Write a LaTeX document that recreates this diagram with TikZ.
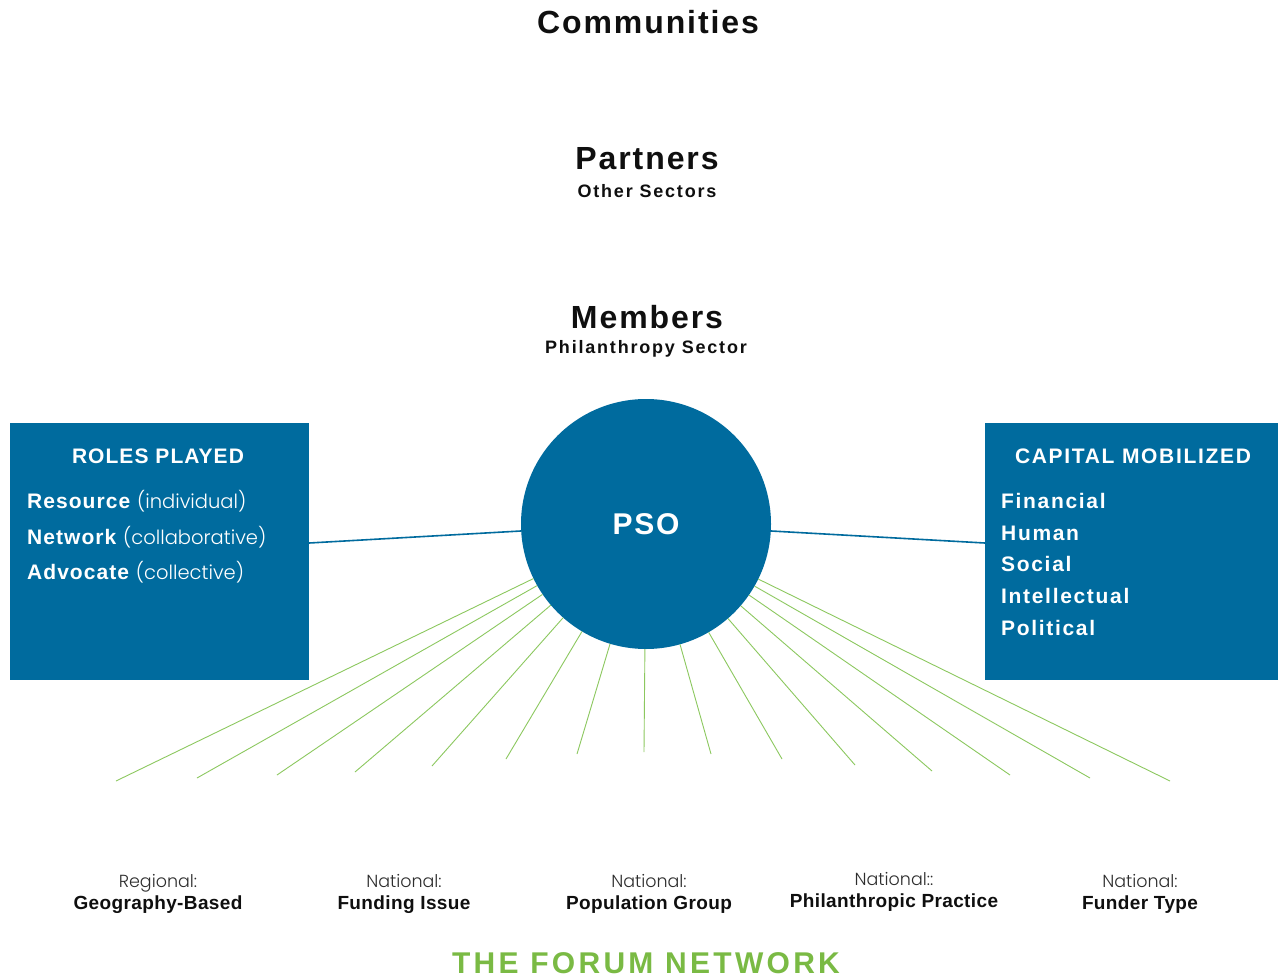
\documentclass[tikz,border=0pt]{standalone}
\usepackage{fontspec}
\setmainfont{Liberation Sans}
\newfontfamily\headfont{Liberation Sans}[LetterSpace=6]
\newfontfamily\subfont{Liberation Sans}[LetterSpace=10]
\newfontfamily\itemfont{Liberation Sans}[LetterSpace=5]
\newfontfamily\capfont{Liberation Sans}[LetterSpace=8]
\newfontfamily\kindfont{Liberation Sans}[LetterSpace=2]
\newfontfamily\brandfont{Liberation Sans}[LetterSpace=11]
\IfFontExistsTF{Poppins Light}{\newfontfamily\lightfont{Poppins Light}}{\newfontfamily\lightfont{Poppins}}
\definecolor{psoblue}{RGB}{0,107,158}
\definecolor{raygreen}{RGB}{140,200,95}
\definecolor{brandgreen}{RGB}{122,186,68}
\definecolor{ink}{RGB}{15,15,15}
\definecolor{softink}{RGB}{45,45,45}
\tikzset{
  tier/.style={text=ink, font={\headfont\bfseries\fontsize{32}{36}\selectfont}},
  tiersub/.style={text=ink, font={\subfont\bfseries\fontsize{18}{22}\selectfont}},
  panel/.style={fill=psoblue, draw=none, minimum width=299pt, minimum height=257pt, inner sep=0pt},
  paneltitle/.style={text=white, font={\itemfont\bfseries\fontsize{21}{24}\selectfont}},
  panelitem/.style={text=white, anchor=west, inner sep=0pt, font={\itemfont\bfseries\fontsize{21}{24}\selectfont}},
  capitem/.style={panelitem, font={\capfont\bfseries\fontsize{21}{24}\selectfont}},
  hub/.style={circle, fill=psoblue, draw=none, minimum size=250pt, inner sep=0pt,
    text=white, font={\headfont\bfseries\fontsize{30}{34}\selectfont}},
  link/.style={draw=psoblue, line width=1.6pt},
  ray/.style={draw=raygreen, line width=0.9pt},
  kind/.style={align=center, text=ink, font={\fontsize{17.5}{22}\selectfont}},
}
\newcommand{\note}[1]{{\lightfont\mdseries\fontsize{19.5}{24}\selectfont #1}}
\newcommand{\kindname}[1]{{\kindfont\bfseries\fontsize{19}{22}\selectfont #1}}
\begin{document}
\begin{tikzpicture}[x=1pt,y=-1pt]
\useasboundingbox[fill=white] (0,0) rectangle (1278,979);

% concentric tiers, read from the top
\node[tier] (comm) at (648,22) {Communities};
\node[tier] (partners) at (647,159) {Partners};
\node[tiersub] (othersec) at (647,191) {Other Sectors};
\node[tier] (members) at (647,317) {Members};
\node[tiersub] (philsec) at (646,349) {Philanthropy Sector};

% side panels
\node[panel] (roles) at (159.5,551.5) {};
\node[paneltitle] (rolesT) at (158,456) {ROLES PLAYED};
\node[panelitem] (r1) at (27,501) {Resource \note{(individual)}};
\node[panelitem] (r2) at (27,537) {Network \note{(collaborative)}};
\node[panelitem] (r3) at (27,572) {Advocate \note{(collective)}};

\node[panel, minimum width=293pt] (capital) at (1131.5,551.5) {};
\node[paneltitle] (capT) at (1133,456) {\addfontfeature{LetterSpace=8}CAPITAL MOBILIZED};
\node[capitem] (c1) at (1001,501) {Financial};
\node[capitem] (c2) at (1001,533) {Human};
\node[capitem] (c3) at (1001,564) {Social};
\node[capitem] (c4) at (1001,596) {Intellectual};
\node[capitem] (c5) at (1001,628) {Political};

% free ends of the rays
\foreach \n/\x/\y in {1/116/781, 2/197/778, 3/277/775, 4/355/772, 5/432/766,
    6/506/759, 7/577/754, 8/644/752, 9/711/754, 10/782/759, 11/855/765,
    12/932/771, 13/1010/775, 14/1090/778, 15/1170/781}
  \coordinate (e\n) at (\x,\y);

% hub
\node[hub] (pso) at (646,524) {PSO};

\foreach \n in {1,...,15}
  \draw[ray] (pso) -- (e\n);

\draw[link] ([yshift=8.5pt]roles.east) -- ([yshift=-7pt]pso.west);
\draw[link] ([yshift=-7pt]pso.east) -- ([yshift=8.5pt]capital.west);

% network types
\node[kind] (k1) at (158,894) {{\lightfont\color{softink}Regional:}\\\kindname{Geography-Based}};
\node[kind] (k2) at (404,893.5) {{\lightfont\color{softink}National:}\\\kindname{Funding Issue}};
\node[kind] (k3) at (649,894) {{\lightfont\color{softink}National:}\\\kindname{Population Group}};
\node[kind] (k4) at (894,892) {{\lightfont\color{softink}National::}\\\kindname{Philanthropic Practice}};
\node[kind] (k5) at (1140,894) {{\lightfont\color{softink}National:}\\\kindname{Funder Type}};

\node[text=brandgreen, font={\brandfont\bfseries\fontsize{30}{34}\selectfont}] (brand) at (646,963) {THE FORUM NETWORK};
\end{tikzpicture}
\end{document}
